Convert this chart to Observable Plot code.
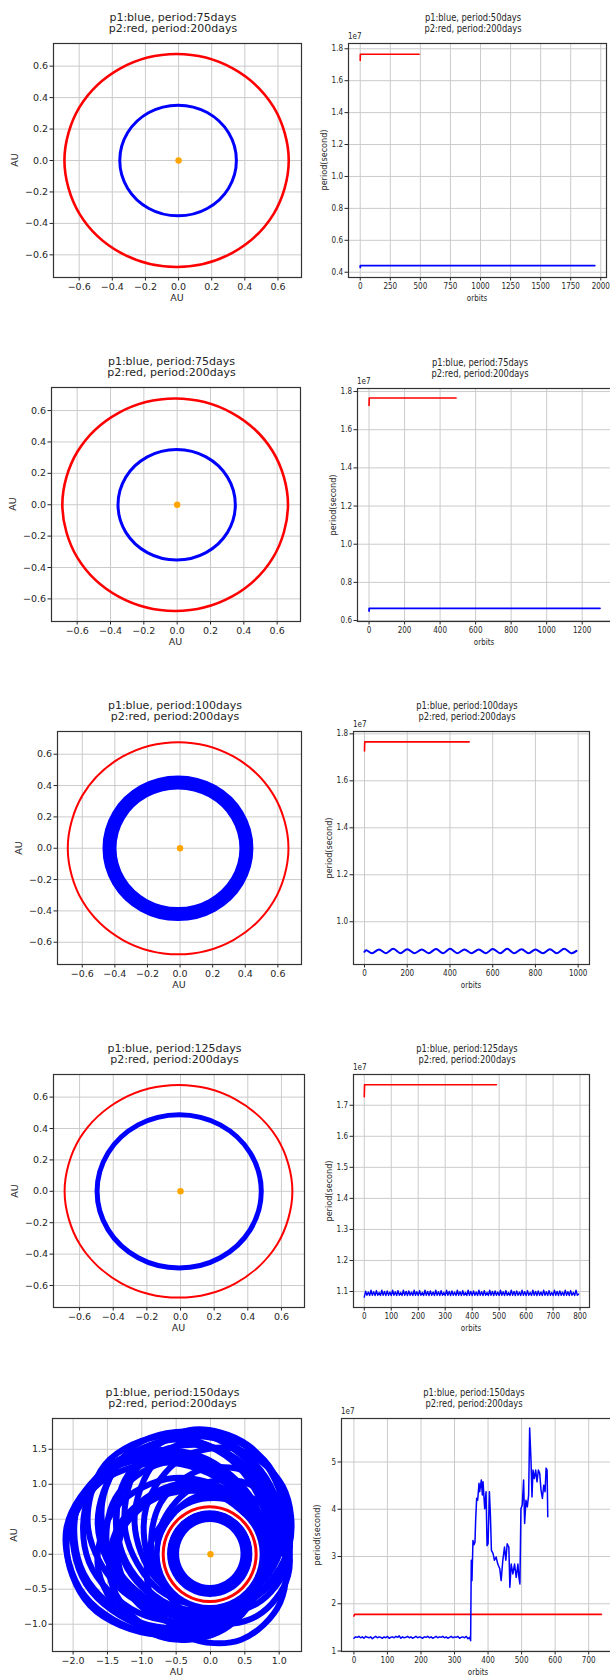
<!DOCTYPE html>
<html><head><meta charset="utf-8">
<script src="https://cdn.jsdelivr.net/npm/d3@7"></script>
<script src="https://cdn.jsdelivr.net/npm/@observablehq/plot@0.6"></script>
<style>
body{margin:0;background:#fff;}
#fig{position:relative;width:610px;height:1678px;overflow:hidden;background:#fff;color:#262626;font-family:"DejaVu Sans";}
.t{position:absolute;white-space:nowrap;line-height:1;}
</style></head><body><div id="fig"></div>
<script>
// ---------------- DATA ----------------
// Orbit shapes (AU), points read around each ring
const redOrbit = [[0.665,0],[0.574,0.339],[0.327,0.586],[-0.012,0.677],[-0.351,0.586],[-0.598,0.339],[-0.689,0],[-0.598,-0.339],[-0.351,-0.586],[-0.012,-0.677],[0.327,-0.586],[0.574,-0.339]];
const blue75Orbit = [[0.349,0],[0.302,0.176],[0.173,0.305],[-0.003,0.352],[-0.179,0.305],[-0.308,0.176],[-0.355,0],[-0.308,-0.176],[-0.179,-0.305],[-0.003,-0.352],[0.173,-0.305],[0.302,-0.176]];
const blue100Band = [[0.407,0],[0.351,0.21],[0.197,0.364],[-0.013,0.42],[-0.223,0.364],[-0.377,0.21],[-0.433,0],[-0.377,-0.21],[-0.223,-0.364],[-0.013,-0.42],[0.197,-0.364],[0.351,-0.21]];
const blue125Orbit = [[0.480,0],[0.415,0.244],[0.236,0.423],[-0.008,0.488],[-0.252,0.423],[-0.431,0.244],[-0.496,0],[-0.431,-0.244],[-0.252,-0.423],[-0.008,-0.488],[0.236,-0.423],[0.415,-0.244]];
const blue150Inner = [[0.525,0.01],[0.453,0.278],[0.258,0.473],[-0.01,0.545],[-0.278,0.473],[-0.473,0.278],[-0.545,0.01],[-0.473,-0.258],[-0.278,-0.453],[-0.01,-0.525],[0.258,-0.453],[0.453,-0.258]];
const blue150Loops = [
 [[-2.098,0.371],[-1.838,-0.584],[-0.900,-1.125],[0.167,-0.938],[0.739,-0.131],[0.479,0.824],[-0.460,1.365],[-1.526,1.178]],
 [[-1.927,0.701],[-1.843,-0.281],[-1.030,-0.972],[0.037,-0.965],[0.733,-0.267],[0.649,0.715],[-0.164,1.406],[-1.231,1.399]],
 [[-1.532,1.286],[-1.780,0.364],[-1.267,-0.536],[-0.291,-0.886],[0.575,-0.482],[0.823,0.440],[0.309,1.340],[-0.666,1.690]],
 [[-1.091,1.556],[-1.577,0.731],[-1.326,-0.258],[-0.482,-0.832],[0.459,-0.655],[0.946,0.170],[0.694,1.158],[-0.149,1.733]],
 [[-0.313,1.773],[-1.058,1.262],[-1.236,0.315],[-0.745,-0.513],[0.131,-0.739],[0.875,-0.227],[1.054,0.719],[0.562,1.548]],
 [[-0.656,1.622],[-1.292,0.962],[-1.275,-0.004],[-0.616,-0.709],[0.300,-0.742],[0.936,-0.081],[0.919,0.884],[0.260,1.590]],
 [[0.401,1.497],[-0.422,1.369],[-0.937,0.665],[-0.843,-0.202],[-0.194,-0.725],[0.629,-0.596],[1.145,0.107],[1.050,0.975]],
 [[-1.643,-0.144],[-1.219,-0.912],[-0.334,-1.167],[0.492,-0.762],[0.777,0.068],[0.352,0.836],[-0.532,1.091],[-1.359,0.686]],
 [[-1.359,-0.635],[-0.743,-1.175],[0.109,-1.120],[0.698,-0.502],[0.680,0.317],[0.064,0.858],[-0.789,0.802],[-1.377,0.185]],
 [[0.445,-1.222],[1.017,-0.685],[1.045,0.114],[0.510,0.709],[-0.274,0.752],[-0.846,0.215],[-0.873,-0.584],[-0.339,-1.179]],
 [[1.130,-0.303],[1.029,0.423],[0.435,0.872],[-0.302,0.780],[-0.753,0.202],[-0.652,-0.524],[-0.059,-0.974],[0.679,-0.881]],
 [[-1.386,0.800],[-1.476,-0.048],[-0.916,-0.745],[-0.031,-0.882],[0.658,-0.380],[0.749,0.468],[0.188,1.165],[-0.696,1.302]],
 [[1.039,0.600],[0.456,1.038],[-0.280,0.935],[-0.738,0.349],[-0.650,-0.375],[-0.066,-0.813],[0.670,-0.709],[1.128,-0.124]],
 [[-1.308,1.308],[-1.642,0.426],[-1.231,-0.489],[-0.317,-0.899],[0.566,-0.566],[0.899,0.317],[0.489,1.231],[-0.426,1.642]],
 [[-1.980,0.531],[-1.810,-0.428],[-0.946,-1.039],[0.108,-0.942],[0.734,-0.197],[0.564,0.762],[-0.300,1.373],[-1.354,1.276]],
 [[0,1.700],[-0.782,1.345],[-1.106,0.490],[-0.782,-0.365],[0,-0.720],[0.782,-0.365],[1.106,0.490],[0.782,1.345]],
 [[-1.767,0.825],[-1.769,-0.111],[-1.056,-0.832],[-0.046,-0.915],[0.670,-0.313],[0.672,0.623],[-0.040,1.344],[-1.051,1.427]],
 [[-1.449,-0.389],[-0.933,-1.032],[-0.080,-1.128],[0.610,-0.618],[0.734,0.197],[0.218,0.840],[-0.634,0.936],[-1.325,0.426]],
 [[-0.825,1.429],[-1.349,0.712],[-1.208,-0.207],[-0.482,-0.788],[0.400,-0.693],[0.924,0.024],[0.782,0.943],[0.057,1.524]],
 [[-1.350,0],[-1.038,-0.725],[-0.285,-1.026],[0.468,-0.725],[0.780,0],[0.468,0.725],[-0.285,1.026],[-1.038,0.725]],
 [[0.650,1.126],[-0.110,1.216],[-0.726,0.731],[-0.838,-0.045],[-0.380,-0.658],[0.380,-0.749],[0.996,-0.263],[1.108,0.512]],
 [[-2.092,0.183],[-1.752,-0.737],[-0.781,-1.150],[0.254,-0.912],[0.747,-0.065],[0.408,0.854],[-0.563,1.309],[-1.598,1.029]]
];
const star = [[0,0]];

// Period series: [orbit, period in units of 1e7 s]
const red200 = [[0,1.727],[1,1.766],[490,1.766]];
const red200b = [[0,1.740],[2,1.775],[738,1.775]];
const blue50 = [[0,0.430],[1,0.442],[1950,0.442]];
const blue75 = [[0,0.650],[1,0.664],[1300,0.664]];
const blue100 = [[0,0.872],[8,0.879],[35,0.866],[68,0.882],[100,0.866],[135,0.885],[168,0.866],[200,0.883],[235,0.866],[268,0.882],[300,0.866],[335,0.884],[368,0.866],[400,0.885],[435,0.866],[468,0.882],[500,0.866],[535,0.882],[568,0.866],[600,0.884],[635,0.866],[668,0.885],[700,0.866],[735,0.883],[768,0.866],[800,0.882],[835,0.866],[868,0.883],[900,0.866],[935,0.885],[968,0.866],[992,0.876]];
const blue125Step = 5; // orbits between samples
const blue125 = [
1.082,1.101,1.088,1.098,1.087,1.104,1.088,1.099,1.087,1.103,1.088,1.097,1.087,1.104,1.088,1.100,1.087,1.102,1.088,1.098,
1.087,1.104,1.088,1.099,1.087,1.103,1.088,1.097,1.087,1.104,1.088,1.100,1.087,1.102,1.088,1.098,1.087,1.104,1.088,1.099,
1.087,1.103,1.088,1.097,1.087,1.104,1.088,1.100,1.087,1.102,1.088,1.098,1.087,1.104,1.088,1.099,1.087,1.103,1.088,1.097,
1.087,1.104,1.088,1.100,1.087,1.102,1.088,1.098,1.087,1.104,1.088,1.099,1.087,1.103,1.088,1.097,1.087,1.104,1.088,1.100,
1.087,1.102,1.088,1.098,1.087,1.104,1.088,1.099,1.087,1.103,1.088,1.097,1.087,1.104,1.088,1.100,1.087,1.102,1.088,1.098,
1.087,1.104,1.088,1.099,1.087,1.103,1.088,1.097,1.087,1.104,1.088,1.100,1.087,1.102,1.088,1.098,1.087,1.104,1.088,1.099,
1.087,1.103,1.088,1.097,1.087,1.104,1.088,1.100,1.087,1.102,1.088,1.098,1.087,1.104,1.088,1.099,1.087,1.103,1.088,1.097,
1.087,1.104,1.088,1.100,1.087,1.102,1.088,1.098,1.087,1.104,1.088,1.099,1.087,1.103,1.088,1.097,1.087,1.104,1.088,1.092];
const blue150 = [[0,1.27],[5,1.30],[10,1.29],[15,1.31],[20,1.28],[25,1.30],[30,1.27],[35,1.31],[40,1.29],[45,1.28],[50,1.30],[55,1.26],[60,1.29],[65,1.31],[70,1.28],[75,1.30],[80,1.29],[85,1.27],[90,1.30],[95,1.28],[100,1.31],[105,1.27],[110,1.29],[115,1.30],[120,1.28],[125,1.31],[130,1.29],[135,1.32],[140,1.27],[145,1.30],[150,1.28],[155,1.29],[160,1.31],[165,1.28],[170,1.30],[175,1.27],[180,1.29],[185,1.31],[190,1.28],[195,1.30],[200,1.29],[205,1.27],[210,1.30],[215,1.29],[220,1.31],[225,1.28],[230,1.30],[235,1.27],[240,1.29],[245,1.31],[250,1.28],[255,1.30],[260,1.29],[265,1.31],[270,1.28],[275,1.30],[280,1.27],[285,1.29],[290,1.31],[295,1.28],[300,1.30],[305,1.29],[310,1.31],[315,1.27],[320,1.29],[325,1.30],[330,1.28],[335,1.31],[340,1.26],[345,1.29],[348,1.22],
[350,2.92],[352,2.49],[355,3.34],[358,3.25],[361,3.30],[363,3.77],[366,4.23],[369,4.19],[373,4.55],[375,4.37],[380,4.62],[383,4.30],[385,4.58],[390,4.01],[394,4.37],[397,3.23],[400,3.27],[404,4.37],[407,3.87],[410,3.13],[415,3.06],[419,2.92],[424,2.99],[429,2.84],[435,2.74],[439,2.49],[444,2.92],[449,3.20],[453,2.92],[457,3.27],[462,3.20],[465,2.35],[469,2.84],[474,2.63],[479,2.84],[484,2.56],[489,2.84],[492,2.56],[495,2.42],[498,4.01],[502,4.09],[506,4.62],[509,3.70],[513,4.19],[517,4.05],[521,4.30],[524,5.72],[528,5.04],[531,4.26],[534,4.83],[538,4.65],[542,4.83],[546,4.58],[550,4.83],[554,4.76],[558,4.40],[562,4.23],[566,4.51],[570,4.37],[573,4.87],[576,4.83],[578,3.84]];

// Titles and tick labels
const titles = [
 ["p1:blue, period:75days","p2:red, period:200days"],
 ["p1:blue, period:50days","p2:red, period:200days"],
 ["p1:blue, period:75days","p2:red, period:200days"],
 ["p1:blue, period:75days","p2:red, period:200days"],
 ["p1:blue, period:100days","p2:red, period:200days"],
 ["p1:blue, period:100days","p2:red, period:200days"],
 ["p1:blue, period:125days","p2:red, period:200days"],
 ["p1:blue, period:125days","p2:red, period:200days"],
 ["p1:blue, period:150days","p2:red, period:200days"],
 ["p1:blue, period:150days","p2:red, period:200days"]
];
const auTicks = [-0.6,-0.4,-0.2,0,0.2,0.4,0.6];
const au5xTicks = [-2,-1.5,-1,-0.5,0,0.5,1];
const au5yTicks = [-1,-0.5,0,0.5,1,1.5];
const r1x = [0,250,500,750,1000,1250,1500,1750,2000], r1y = [0.4,0.6,0.8,1.0,1.2,1.4,1.6,1.8];
const r2x = [0,200,400,600,800,1000,1200], r2y = [0.6,0.8,1.0,1.2,1.4,1.6,1.8];
const r3x = [0,200,400,600,800,1000], r3y = [1.0,1.2,1.4,1.6,1.8];
const r4x = [0,100,200,300,400,500,600,700,800], r4y = [1.1,1.2,1.3,1.4,1.5,1.6,1.7];
const r5x = [0,100,200,300,400,500,600,700], r5y = [1,2,3,4,5];

// ---------------- DRAWING ----------------
const fig = document.getElementById("fig");
const BLUE = "#0000ff", RED = "#ff0000", ORANGE = "#ffa500", GRID = "#cbcbcb", INK = "#262626";
const fmt1 = d => (d < 0 ? "\u2212" : "") + Math.abs(d).toFixed(1);
const fmt0 = d => String(d);

function text(str, x, y, o = {}) {
  const el = document.createElement("div");
  el.className = "t";
  el.textContent = str;
  el.style.left = x + "px"; el.style.top = y + "px";
  el.style.fontSize = (o.size || 9.5) + "px";
  el.style.fontFamily = o.family || "DejaVu Sans";
  const tx = o.anchor === "start" ? "0%" : "-50%";
  el.style.transform = `translate(${tx},-50%) rotate(${o.rotate || 0}deg) scaleX(${o.sx || 1})`;
  el.style.transformOrigin = o.anchor === "start" ? "left center" : "center center";
  fig.appendChild(el);
}

function panel(f, opts) {
  const {ml, mr, mt, mb} = opts.m;
  const svg = Plot.plot({
    width: f.w + ml + mr, height: f.h + mt + mb,
    marginLeft: ml, marginRight: mr, marginTop: mt, marginBottom: mb,
    style: {fontFamily: opts.font, fontSize: opts.fs + "px", color: INK, background: "transparent", overflow: "visible"},
    x: {domain: f.xd, ticks: f.xt, tickFormat: opts.xf, tickSize: 3.5, tickPadding: 2, label: null},
    y: {domain: f.yd, ticks: f.yt, tickFormat: opts.yf, tickSize: 3.5, tickPadding: 2, label: null},
    marks: [
      Plot.gridX(f.xt, {stroke: GRID, strokeOpacity: 1, strokeWidth: 1}),
      Plot.gridY(f.yt, {stroke: GRID, strokeOpacity: 1, strokeWidth: 1}),
      ...f.marks,
      Plot.frame({stroke: "#333", strokeWidth: 1.2})
    ]
  });
  svg.style.position = "absolute";
  svg.style.left = (f.x - ml) + "px";
  svg.style.top = (f.y - mt) + "px";
  fig.appendChild(svg);
}

const ring = (pts, stroke, w) => Plot.line(pts, {x: d => d[0], y: d => d[1], stroke, strokeWidth: w, curve: "catmull-rom-closed"});
const sun = Plot.dot(star, {x: d => d[0], y: d => d[1], r: 3.2, fill: ORANGE, stroke: "none"});
const series = (pts, stroke, w, curve = "linear") => Plot.line(pts, {x: d => d[0], y: d => d[1], stroke, strokeWidth: w, curve});

const leftOpts = {m: {ml: 50, mr: 8, mt: 8, mb: 26}, font: "DejaVu Sans", fs: 9.5, xf: fmt1, yf: fmt1};
const rightFont = "'DejaVu Sans Condensed', 'DejaVu Sans'";
const rightOpts = (yf) => ({m: {ml: 42, mr: 8, mt: 8, mb: 24}, font: rightFont, fs: 8, xf: fmt0, yf});

const loopRows = blue150Loops.flatMap((pts, i) => pts.map(p => ({x: p[0], y: p[1], k: i})));

const leftPanels = [
  {x: 53, y: 43, w: 248, h: 234, xd: [-0.755, 0.742], yd: [-0.744, 0.744], xt: auTicks, yt: auTicks,
   marks: [ring(redOrbit, RED, 2.6), ring(blue75Orbit, BLUE, 3), sun]},
  {x: 51, y: 387, w: 249, h: 234, xd: [-0.754, 0.740], yd: [-0.744, 0.747], xt: auTicks, yt: auTicks,
   marks: [ring(redOrbit, RED, 2.6), ring(blue75Orbit, BLUE, 3), sun]},
  {x: 57, y: 731, w: 244, h: 233, xd: [-0.752, 0.745], yd: [-0.742, 0.745], xt: auTicks, yt: auTicks,
   marks: [ring(redOrbit, RED, 2), ring(blue100Band, BLUE, 14), sun]},
  {x: 53, y: 1074, w: 251, h: 233, xd: [-0.755, 0.737], yd: [-0.740, 0.744], xt: auTicks, yt: auTicks,
   marks: [ring(redOrbit, RED, 2), ring(blue125Orbit, BLUE, 5), sun]},
  {x: 52, y: 1418, w: 249, h: 233, xd: [-2.30, 1.325], yd: [-1.39, 1.94], xt: au5xTicks, yt: au5yTicks,
   marks: [
     Plot.line(loopRows, {x: "x", y: "y", z: "k", stroke: BLUE, strokeWidth: 6, curve: "catmull-rom-closed"}),
     ring(blue150Inner, BLUE, 12),
     ring(redOrbit, "#ffffff", 7),
     ring(redOrbit, RED, 3),
     sun]}
];

const rightPanels = [
  {x: 348, y: 43, w: 258, h: 234, xd: [-97.5, 2047.5], yd: [0.367, 1.833], xt: r1x, yt: r1y,
   marks: [series(red200, RED, 1.6), series(blue50, BLUE, 1.8)], yf: fmt1},
  {x: 357, y: 388, w: 254, h: 233, xd: [-65, 1365], yd: [0.595, 1.816], xt: r2x, yt: r2y,
   marks: [series(red200, RED, 1.6), series(blue75, BLUE, 1.8)], yf: fmt1},
  {x: 353, y: 731, w: 236, h: 233, xd: [-51.5, 1053], yd: [0.818, 1.81], xt: r3x, yt: r3y,
   marks: [series(red200, RED, 1.6), series(blue100, BLUE, 2, "catmull-rom")], yf: fmt1},
  {x: 353, y: 1074, w: 236, h: 233, xd: [-40, 835], yd: [1.0485, 1.799], xt: r4x, yt: r4y,
   marks: [series(red200, RED, 1.6), Plot.line(blue125, {x: (d, i) => i * blue125Step, y: d => d, stroke: BLUE, strokeWidth: 1.4})], yf: fmt1},
  {x: 341, y: 1418, w: 273, h: 233, xd: [-37, 777], yd: [0.99, 5.92], xt: r5x, yt: r5y,
   marks: [series(red200b, RED, 1.6), series(blue150, BLUE, 1.5)], yf: fmt0}
];

leftPanels.forEach((f, i) => {
  panel(f, leftOpts);
  const cx = f.x + f.w / 2 - 4;
  text(titles[2 * i][0], cx, f.y - 26.3, {size: 11});
  text(titles[2 * i][1], cx, f.y - 14.7, {size: 11});
  text("AU", f.x + f.w / 2, f.y + f.h + 21, {size: 9.5});
  text("AU", f.x - 38, f.y + f.h / 2, {size: 9.5, rotate: -90});
});

rightPanels.forEach((f, i) => {
  panel(f, rightOpts(f.yf));
  const cx = f.x + f.w / 2 - 4;
  text(titles[2 * i + 1][0], cx, f.y - 26.3, {size: 10.5, family: rightFont, sx: 0.88});
  text(titles[2 * i + 1][1], cx, f.y - 14.7, {size: 10.5, family: rightFont, sx: 0.88});
  text("orbits", f.x + f.w / 2, f.y + f.h + 21, {size: 9, family: rightFont, sx: 0.88});
  text("period(second)", f.x - 24, f.y + f.h / 2, {size: 9, family: rightFont, rotate: -90});
  text("1e7", f.x, f.y - 6.5, {size: 8, family: rightFont, anchor: "start"});
});
</script></body></html>
